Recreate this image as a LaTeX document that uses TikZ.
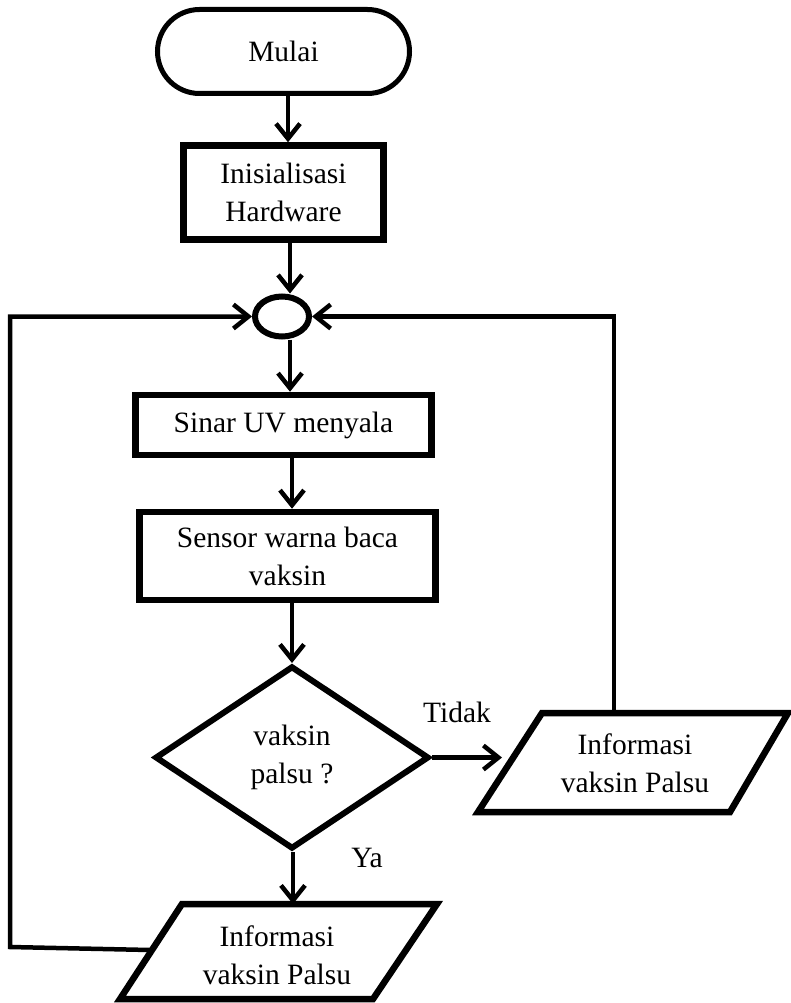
\documentclass[tikz,border=0pt]{standalone}
\usepackage{fontspec}
\setmainfont{Liberation Serif}
\usetikzlibrary{arrows.meta,shapes.geometric}
\begin{document}
\begin{tikzpicture}[x=1pt,y=-1pt,
  txt/.style={font=\fontsize{29.5}{38}\selectfont, align=center, inner sep=0pt},
  procbox/.style={draw, line width=6.5pt, txt},
  flow/.style={line width=4.5pt, -{Straight Barb[length=15pt,width=24pt]}},
  loopline/.style={line width=4.5pt},
  ioshape/.style={draw, line width=6.5pt, line join=miter}
]
\useasboundingbox (0,0) rectangle (790,1003);

\node[procbox, line width=5pt, rounded corners=42pt, minimum width=252pt, minimum height=84pt] (start) at (283.5,51.5) {Mulai};
\node[procbox, minimum width=200pt, minimum height=94pt] (init) at (283.5,192.5) {Inisialisasi\\Hardware};
\node[draw, ellipse, line width=6pt, minimum width=54pt, minimum height=40pt, inner sep=0pt] (conn) at (282,316.5) {};
\node[procbox, minimum width=296pt, minimum height=60pt] (uv) at (283.5,425) {Sinar UV menyala};
\node[procbox, minimum width=296pt, minimum height=88pt] (sensor) at (287.5,556) {Sensor warna baca\\vaksin};
\node[draw, diamond, line width=6pt, minimum width=274pt, minimum height=183pt, inner sep=0pt, txt] (dec) at (292,757.5) {vaksin\\palsu ?};

% right output parallelogram
\draw[ioshape] (542,713) -- (788,713) -- (730,812) -- (478,812) -- cycle;
\node[txt] (outR) at (635,763) {Informasi\\vaksin Palsu};
\coordinate (outRtop) at (614,713);
\coordinate (outRleft) at (502,757.5);

% bottom output parallelogram
\draw[ioshape] (182,904) -- (437,904) -- (373,999) -- (120,999) -- cycle;
\node[txt] (outB) at (277,955) {Informasi\\vaksin Palsu};
\coordinate (outBtop) at (293,904);
\coordinate (outBleft) at (150,950);
\coordinate (lb) at (10,947);

% connectors
\draw[flow] ([xshift=4.5pt]start.south) -- ([xshift=4.5pt]init.north);
\draw[flow] ([xshift=6.5pt]init.south) -- ([xshift=8pt]conn.north);
\draw[flow] ([xshift=8pt]conn.south) -- ([xshift=6.5pt]uv.north);
\draw[flow] ([xshift=8.5pt]uv.south) -- ([xshift=4.5pt]sensor.north);
\draw[flow] ([xshift=4.5pt]sensor.south) -- (dec.north);
\draw[flow] (dec.east) -- (outRleft);
\draw[flow] ([xshift=1pt]dec.south) -- (outBtop);
\draw[loopline, -{Straight Barb[length=15pt,width=24pt]}] (outRtop) |- (conn.east);
\draw[loopline, -{Straight Barb[length=15pt,width=24pt]}] (outBleft) -- (lb) |- (conn.west);

% labels
\node[txt] (tidak) at (457,712) {Tidak};
\node[txt] (ya) at (367,858) {Ya};
\end{tikzpicture}
\end{document}
